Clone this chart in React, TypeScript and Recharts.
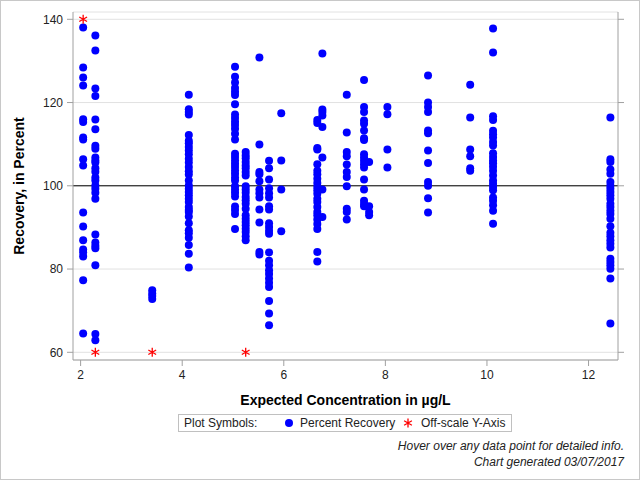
import React from "react"
import {
  ScatterChart,
  Scatter,
  XAxis,
  YAxis,
  CartesianGrid,
  ReferenceLine,
} from "recharts"

// expected concentrations (µg/L), one per column of points
const concentrations = [2.05, 2.29, 3.41, 4.13, 5.04, 5.25, 5.52, 5.71, 5.95, 6.66, 6.76, 7.24, 7.58, 7.68, 8.04, 8.84, 9.67, 10.12, 12.43]

// percent recovery values for each concentration
const rec_2_05 = [138.0, 128.4, 126.0, 124.1, 116.0, 115.3, 111.6, 111.1, 106.4, 104.9, 93.6, 90.2, 86.9, 84.7, 84.0, 83.0, 77.3, 64.5]
const rec_2_29 = [136.1, 132.5, 123.4, 121.6, 115.9, 113.6, 109.6, 108.9, 106.8, 106.1, 105.6, 104.2, 103.4, 102.0, 101.3, 100.1, 99.3, 98.3, 96.9, 88.3, 86.4, 85.6, 85.0, 80.9, 64.4, 62.9]
const rec_3_41 = [74.9, 74.1, 73.5, 72.8]
const rec_4_13 = [121.9, 118.4, 117.7, 117.1, 112.2, 110.8, 110.2, 109.3, 108.5, 107.6, 106.5, 105.6, 104.5, 103.5, 102.7, 101.3, 100.1, 99.3, 98.5, 97.7, 96.9, 96.1, 94.9, 94.2, 93.7, 92.6, 91.0, 89.3, 88.6, 87.5, 85.8, 83.7, 80.4]
const rec_5_04 = [128.6, 126.2, 124.8, 123.5, 122.6, 121.8, 119.6, 117.1, 116.3, 115.4, 114.6, 113.7, 112.5, 111.1, 107.7, 106.9, 106.1, 105.3, 104.5, 103.7, 102.9, 102.0, 101.3, 99.9, 99.1, 98.3, 97.4, 95.0, 94.2, 93.2, 89.6]
const rec_5_25 = [108.1, 107.3, 106.6, 105.7, 104.9, 104.2, 103.3, 102.5, 99.9, 99.1, 98.3, 97.3, 96.5, 95.7, 94.5, 92.9, 92.1, 91.3, 90.5, 89.7, 88.9, 87.9, 86.9]
const rec_5_52 = [130.8, 109.9, 103.3, 102.8, 101.1, 99.1, 98.2, 97.2, 94.3, 91.2, 84.1, 83.5]
const rec_5_71 = [106.0, 104.2, 101.5, 99.4, 98.2, 97.2, 95.1, 94.3, 91.0, 90.1, 89.2, 88.5, 84.0, 82.0, 80.9, 79.7, 78.8, 77.7, 76.7, 75.7, 72.3, 69.3, 66.5]
const rec_5_95 = [117.4, 106.1, 99.1, 89.1]
const rec_6_66 = [115.8, 115.1, 109.1, 108.7, 105.2, 103.6, 102.8, 101.7, 100.7, 99.7, 98.9, 98.1, 96.9, 96.1, 94.9, 93.7, 92.9, 91.9, 90.8, 89.6, 84.1, 81.8]
const rec_6_76 = [131.8, 118.3, 117.7, 116.9, 114.1, 106.8, 99.1, 92.5]
const rec_7_24 = [121.9, 112.8, 108.1, 107.1, 105.1, 103.3, 102.1, 99.9, 94.5, 93.7, 91.9]
const rec_7_58 = [125.4, 118.9, 117.7, 115.7, 114.9, 113.3, 111.4, 111.0, 107.6, 106.8, 106.0, 105.2, 104.4, 101.5, 99.1, 96.4, 95.6, 95.1]
const rec_7_68 = [105.7, 95.1, 93.7, 92.9]
const rec_8_04 = [118.9, 117.2, 108.7, 104.4]
const rec_8_84 = [126.5, 120.0, 118.9, 117.7, 113.3, 112.6, 108.5, 105.5, 100.9, 100.0, 97.0, 93.6]
const rec_9_67 = [124.3, 116.4, 108.7, 107.1, 104.2, 103.6]
const rec_10_12 = [137.8, 132.0, 116.7, 115.8, 113.2, 112.4, 111.6, 110.5, 109.7, 107.8, 106.9, 106.1, 105.4, 104.6, 103.6, 102.5, 101.3, 100.5, 99.7, 98.9, 97.2, 96.4, 95.3, 94.0, 90.9]
const rec_12_43 = [116.4, 106.4, 105.7, 103.9, 102.9, 100.9, 100.0, 99.3, 98.5, 97.7, 96.9, 95.7, 94.9, 94.0, 93.2, 92.1, 90.3, 88.7, 87.9, 86.9, 86.1, 85.2, 82.5, 81.7, 80.9, 80.1, 77.7, 66.9]

const recoveries = [rec_2_05, rec_2_29, rec_3_41, rec_4_13, rec_5_04, rec_5_25, rec_5_52, rec_5_71, rec_5_95, rec_6_66, rec_6_76, rec_7_24, rec_7_58, rec_7_68, rec_8_04, rec_8_84, rec_9_67, rec_10_12, rec_12_43]

// off-scale values, drawn at the edge of the axis
const offScaleX = [2.05, 2.29, 3.41, 5.25]
const offScaleY = [140, 60, 60, 60]

const xTicks = [2, 4, 6, 8, 10, 12]
const yTicks = [60, 80, 100, 120, 140]

const points = concentrations.flatMap((c, i) => recoveries[i].map(r => ({ x: c, y: r })))
const offScale = offScaleX.map((x, i) => ({ x, y: offScaleY[i] }))

const FONT = '"Liberation Sans", Arial, sans-serif'
const AXIS_GRAY = '#a0a0a0'

const Dot = (props: any) => <circle cx={props.cx} cy={props.cy} r={4} fill="#0000ff" />

const Star = (props: any) => {
  const { cx, cy } = props
  const r = 4.5
  const dx = r * Math.cos(Math.PI / 6)
  const dy = r * Math.sin(Math.PI / 6)
  return (
    <path
      d={`M${cx},${cy - r}L${cx},${cy + r}M${cx - dx},${cy - dy}L${cx + dx},${cy + dy}M${cx - dx},${cy + dy}L${cx + dx},${cy - dy}`}
      stroke="#ff0000"
      strokeWidth={1.3}
      fill="none"
    />
  )
}

export default function App() {
  const tickStyle = { fontSize: 12, fill: '#222', fontFamily: FONT }
  return (
    <div style={{ position: 'absolute', left: 0, top: 0, width: 640, height: 480, background: '#fff', fontFamily: FONT }}>
      <ScatterChart width={640} height={480} margin={{ top: 12, right: 0, bottom: 90, left: 13 }}>
        <CartesianGrid vertical={false} stroke="#e2e2e2" />
        <XAxis
          type="number"
          dataKey="x"
          domain={[1.85, 12.58]}
          ticks={xTicks}
          allowDataOverflow
          height={30}
          tick={tickStyle}
          tickSize={6}
          tickMargin={4}
          stroke={AXIS_GRAY}
        />
        <XAxis xAxisId="top" type="number" orientation="top" domain={[1.85, 12.58]} height={0} tick={false} tickLine={false} stroke={AXIS_GRAY} />
        <YAxis
          type="number"
          dataKey="y"
          domain={[58.15, 141.75]}
          ticks={yTicks}
          allowDataOverflow
          width={60}
          tick={tickStyle}
          tickSize={6}
          tickMargin={4}
          stroke={AXIS_GRAY}
        />
        <YAxis
          yAxisId="right"
          type="number"
          orientation="right"
          domain={[58.15, 141.75]}
          ticks={yTicks}
          allowDataOverflow
          width={22}
          tickFormatter={() => ''}
          tickSize={6}
          stroke={AXIS_GRAY}
        />
        <ReferenceLine y={100} stroke="#000" strokeWidth={1} />
        <Scatter data={points} shape={Dot} isAnimationActive={false} />
        <Scatter data={offScale} shape={Star} isAnimationActive={false} />
      </ScatterChart>

      <div style={{ position: 'absolute', left: 19, top: 186, transform: 'translate(-50%, -50%) rotate(-90deg)', whiteSpace: 'nowrap', fontSize: 14, fontWeight: 'bold', color: '#000' }}>
        Recovery, in Percent
      </div>
      <div style={{ position: 'absolute', left: 73, width: 545, top: 392, lineHeight: '16px', textAlign: 'center', fontSize: 14, fontWeight: 'bold', color: '#000' }}>
        Expected Concentration in µg/L
      </div>

      <div style={{ position: 'absolute', left: 178, top: 414, width: 334, height: 18, boxSizing: 'border-box', border: '1px solid #c0c0c0', fontSize: 12, color: '#222', lineHeight: '16px' }}>
        <span style={{ position: 'absolute', left: 5, top: 0 }}>Plot Symbols:</span>
        <svg style={{ position: 'absolute', left: 105, top: 3 }} width={10} height={10}>
          <circle cx={5} cy={5} r={4} fill="#0000ff" />
        </svg>
        <span style={{ position: 'absolute', left: 121, top: 0 }}>Percent Recovery</span>
        <svg style={{ position: 'absolute', left: 224, top: 3 }} width={10} height={10}>
          <Star cx={5} cy={5} />
        </svg>
        <span style={{ position: 'absolute', left: 242, top: 0 }}>Off-scale Y-Axis</span>
      </div>

      <div style={{ position: 'absolute', right: 16, top: 438, textAlign: 'right', fontSize: 12, fontStyle: 'italic', color: '#222', lineHeight: '16px' }}>
        Hover over any data point for detailed info.
        <br />
        Chart generated 03/07/2017
      </div>

      <div style={{ position: 'absolute', left: 0, top: 0, width: 640, height: 480, boxSizing: 'border-box', border: '1px solid #c8c8c8', pointerEvents: 'none' }} />
    </div>
  )
}
